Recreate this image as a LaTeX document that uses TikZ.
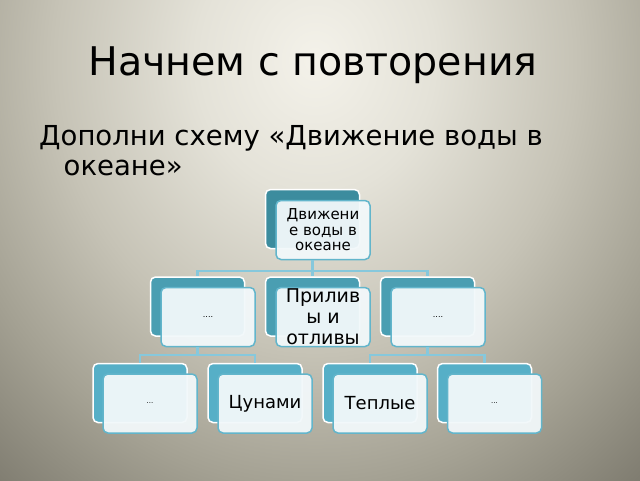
\documentclass[tikz,border=0pt]{standalone}
\usepackage{fontspec}
\setmainfont{DejaVu Sans}
\usetikzlibrary{calc}

\definecolor{bglight}{HTML}{F4F2EA}
\definecolor{bgmidA}{HTML}{E4E2D8}
\definecolor{bgmidB}{HTML}{C6C3B6}
\definecolor{bgmidC}{HTML}{A4A193}
\definecolor{bgdark}{HTML}{7E7B6F}
\definecolor{rootback}{HTML}{3C8C9E}
\definecolor{midback}{HTML}{4A9EB2}
\definecolor{lowback}{HTML}{56AFC7}
\definecolor{frontline}{HTML}{62B5CB}
\definecolor{frontfill}{HTML}{F2F8FA}
\definecolor{connline}{HTML}{86C8DC}

\pgfdeclareradialshading{slidebg}{\pgfpoint{0bp}{0bp}}{color(0bp)=(bglight); color(6bp)=(bgmidA); color(13bp)=(bgmidB); color(19bp)=(bgmidC); color(25bp)=(bgdark); color(50bp)=(bgdark)}

\begin{document}
\begin{tikzpicture}[
		x=1pt,y=-1pt,
		back/.style={draw=white,line width=1.5pt,rounded corners=5pt,minimum width=94pt,minimum height=59pt,inner sep=0pt},
		front/.style={draw=frontline,line width=1.5pt,rounded corners=5pt,fill=frontfill,fill opacity=0.95,text opacity=1,minimum width=94pt,minimum height=59pt,inner sep=0pt,align=center},
		conn/.style={draw=connline,line width=2.2pt}]
	%% background
	\useasboundingbox (0,0) rectangle (640,480);
	\begin{scope}
		\clip (0,0) rectangle (640,480);
		\fill[bgdark] (0,0) rectangle (640,480);
		\shade[shading=slidebg] (315,60) ellipse [x radius=500, y radius=560];
	\end{scope}
	%% texts
	\node[anchor=base,font=\fontsize{39.5}{48}\selectfont] (title) at (313,75) {Начнем с повторения};
	\node[anchor=base west,inner sep=0pt,font=\fontsize{27.5}{30}\selectfont] (task) at (39,145) {Дополни схему «Движение воды в};
	\node[anchor=base west,inner sep=0pt,font=\fontsize{27.5}{30}\selectfont] (taskend) at (63.5,175) {океане»};
	%% root
	\node[back,fill=rootback] (rootB) at (312.5,219) {};
	\node[front,font=\fontsize{15}{15.5}\selectfont] (root) at (323,230) {Движени\\е воды в\\океане};
	%% second row
	\node[back,fill=midback] (leftB) at (197.5,306.5) {};
	\node[front,font=\fontsize{8}{8}\selectfont] (left) at (208,317) {....};
	\node[back,fill=midback] (tideB) at (312.5,306.5) {};
	\node[front,font=\fontsize{19}{21}\selectfont] (tide) at (323,317) {Прилив\\ы и\\отливы};
	\node[back,fill=midback] (rightB) at (427.5,306.5) {};
	\node[front,font=\fontsize{8}{8}\selectfont] (right) at (438,317) {....};
	%% third row
	\node[back,fill=lowback] (dotsAB) at (140,393) {};
	\node[front,font=\fontsize{7}{7}\selectfont] (dotsA) at (150,403.5) {...};
	\node[back,fill=lowback] (tsunamiB) at (255,393) {};
	\node[front,font=\fontsize{18}{18}\selectfont] (tsunami) at (265,403.5) {Цунами};
	\node[back,fill=lowback] (warmB) at (370,393) {};
	\node[front,font=\fontsize{18}{18}\selectfont] (warm) at (380,403.5) {Теплые};
	\node[back,fill=lowback] (dotsBB) at (484.5,393) {};
	\node[front,font=\fontsize{7}{7}\selectfont] (dotsB) at (494.5,403.5) {...};
	%% connectors
	\coordinate (rootJ) at ($(rootB.south |- root.south)+(0,11)$);
	\coordinate (leftJ) at ($(leftB.south |- left.south)+(0,8)$);
	\coordinate (rightJ) at ($(rightB.south |- right.south)+(0,8)$);
	\draw[conn] (rootB.south |- root.south) -- (rootJ) -| (leftB.north);
	\draw[conn] (rootJ) -| (tideB.north);
	\draw[conn] (rootJ) -| (rightB.north);
	\draw[conn] (leftB.south |- left.south) -- (leftJ) -| (dotsAB.north);
	\draw[conn] (leftJ) -| (tsunamiB.north);
	\draw[conn] (rightB.south |- right.south) -- (rightJ) -| (warmB.north);
	\draw[conn] (rightJ) -| (dotsBB.north);
\end{tikzpicture}
\end{document}
